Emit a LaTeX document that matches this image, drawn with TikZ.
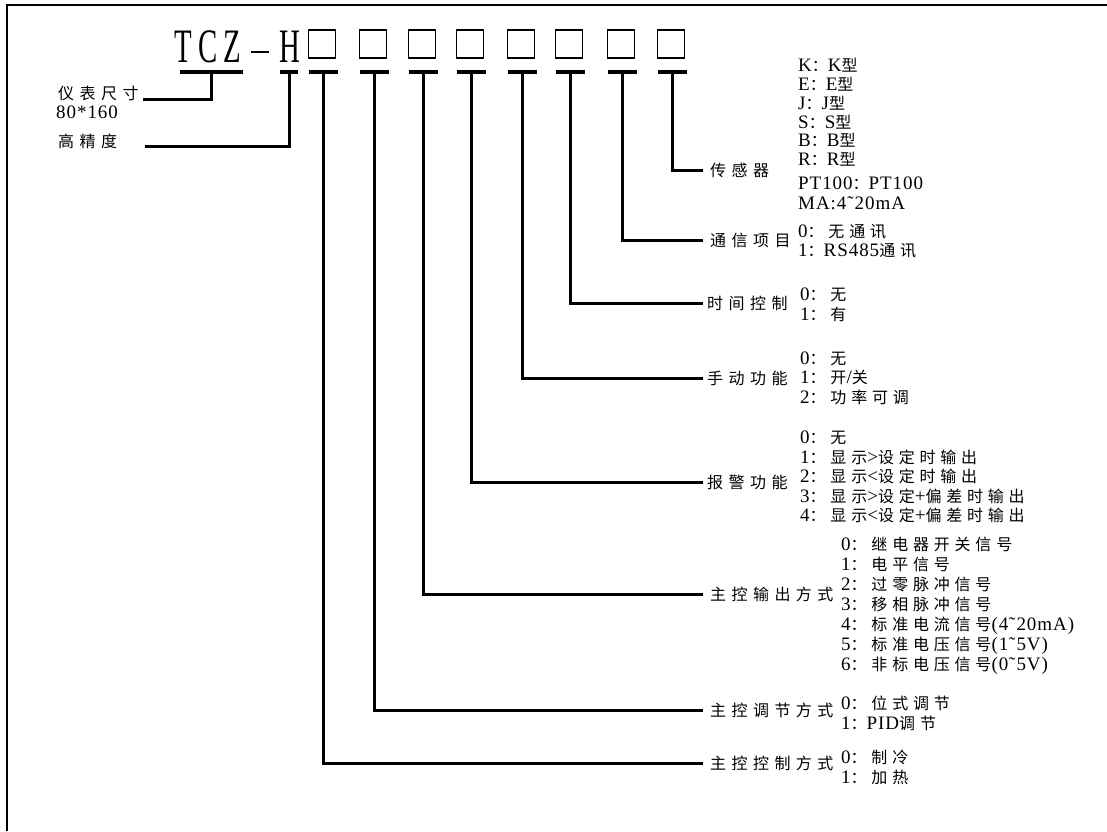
\documentclass[tikz,border=0pt]{standalone}
\usepackage{fontspec}
\setmainfont{Liberation Serif}
\newfontfamily\lat[LetterSpace=5]{Liberation Serif}
\newfontfamily\zho[LetterSpace=30]{Noto Sans CJK SC}
\newfontfamily\zhl[LetterSpace=34]{Noto Sans CJK SC}
\newcommand\Zh[1]{{\zho\fontsize{16}{20}\selectfont #1}}
\newcommand\tch[2]{\makebox[#1pt][c]{\scalebox{0.6}[1]{#2}}}
\tikzset{
  frameline/.style={line width=1.5pt},
  conn/.style={line width=3pt},
  tbar/.style={line width=4pt},
  digitbox/.style={draw, line width=1.3pt, minimum width=27pt, minimum height=28pt, inner sep=0pt},
  lab/.style={anchor=west, inner sep=0pt, font=\zhl\fontsize{16}{16}\selectfont},
  latlab/.style={anchor=west, inner sep=0pt, font=\lat\fontsize{19}{19}\selectfont},
  opt/.style={anchor=west, inner sep=0pt, align=left, font=\lat\fontsize{19}{19.6}\selectfont},
}
\begin{document}
\begin{tikzpicture}[x=1pt,y=-1pt]
\useasboundingbox (0,0) rectangle (1107,831);
\draw[frameline] (7,831) -- (7,5) -- (1107,5);

% title
\node[anchor=base west, inner sep=0pt, font=\fontsize{48}{48}\selectfont] (title) at (171,62)
  {\tch{25}{T}\tch{24}{C}\tch{25}{Z}\makebox[29pt][c]{\rule[9pt]{18pt}{1.6pt}}\tch{32}{H}};

% digit boxes
\foreach \i/\x in {1/322,2/373,3/422,4/470,5/521,6/569,7/621,8/671}
  \node[digitbox] (box\i) at (\x,44) {};

% T bars
\coordinate (tsize) at (211,72);
\coordinate (th) at (289,72);
\draw[tbar] ([xshift=-31pt]tsize) -- ([xshift=32pt]tsize);
\draw[tbar] ([xshift=-9pt]th) -- ([xshift=9pt]th);
\foreach \i/\x in {1/323,2/374,3/423,4/471,5/522,6/570,7/622,8/672}{
  \coordinate (t\i) at (\x,72);
  \draw[tbar] ([xshift=-14.5pt]t\i) -- ([xshift=14.5pt]t\i);
}

% left labels
\node[lab] (size) at (58,93) {仪表尺寸};
\node[latlab] (sizeval) at (56,112) {80*160};
\node[lab] (prec) at (58,141) {高精度};
\coordinate (sizeend) at (143,99);
\coordinate (hend) at (145,146);
\draw[conn] (tsize) |- (sizeend);
\draw[conn] (th) |- (hend);

% right labels
\node[lab, inner xsep=7pt] (L1) at (703,763) {主控控制方式};
\node[lab, inner xsep=7pt] (L2) at (703,710) {主控调节方式};
\node[lab, inner xsep=7pt] (L3) at (703,594) {主控输出方式};
\node[lab, inner xsep=4pt] (L4) at (703,482) {报警功能};
\node[lab, inner xsep=4pt] (L5) at (703,378) {手动功能};
\node[lab, inner xsep=4pt] (L6) at (703,303) {时间控制};
\node[lab, inner xsep=7pt] (L7) at (703,240) {通信项目};
\node[lab, inner xsep=7pt] (L8) at (703,170) {传感器};

\foreach \i in {1,...,8}
  \draw[conn] (t\i) |- (L\i.west);

% options
\node[opt, font=\lat\fontsize{19}{18.8}\selectfont] (O8) at (798,134)
  {K\Zh{：}K\Zh{型}\\E\Zh{：}E\Zh{型}\\J\Zh{：}J\Zh{型}\\S\Zh{：}S\Zh{型}\\B\Zh{：}B\Zh{型}\\R\Zh{：}R\Zh{型}\\[5pt]PT100\Zh{：}PT100\\[1pt]MA:4˜20mA};
\node[opt, font=\lat\fontsize{19}{19}\selectfont] (O7) at (798,241.5)
  {0\Zh{：无通讯}\\1\Zh{：}RS485\Zh{通讯}};
\node[opt] (O6) at (800,305)
  {0\Zh{：无}\\1\Zh{：有}};
\node[opt] (O5) at (800,378)
  {0\Zh{：无}\\1\Zh{：开}/\Zh{关}\\2\Zh{：功率可调}};
\node[opt, font=\lat\fontsize{19}{19.5}\selectfont] (O4) at (800,477)
  {0\Zh{：无}\\1\Zh{：显示}>\Zh{设定时输出}\\2\Zh{：显示}<\Zh{设定时输出}\\3\Zh{：显示}>\Zh{设定}+\Zh{偏差时输出}\\4\Zh{：显示}<\Zh{设定}+\Zh{偏差时输出}};
\node[opt, font=\lat\fontsize{19}{20}\selectfont] (O3) at (841,606)
  {0\Zh{：继电器开关信号}\\1\Zh{：电平信号}\\2\Zh{：过零脉冲信号}\\3\Zh{：移相脉冲信号}\\4\Zh{：标准电流信号}(4˜20mA)\\5\Zh{：标准电压信号}(1˜5V)\\6\Zh{：非标电压信号}(0˜5V)};
\node[opt, font=\lat\fontsize{19}{20}\selectfont] (O2) at (841,713)
  {0\Zh{：位式调节}\\1\Zh{：}PID\Zh{调节}};
\node[opt, font=\lat\fontsize{19}{20}\selectfont] (O1) at (841,767)
  {0\Zh{：制冷}\\1\Zh{：加热}};
\end{tikzpicture}
\end{document}
